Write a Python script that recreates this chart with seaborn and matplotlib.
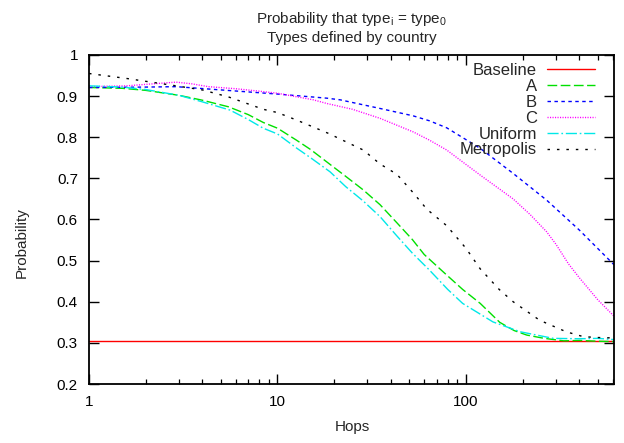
import matplotlib
matplotlib.use("Agg")
import matplotlib.pyplot as plt
import seaborn as sns
import pandas as pd
from matplotlib.ticker import LogLocator, NullFormatter, FuncFormatter, MultipleLocator

# ---------------- data ----------------
title_text = "Probability that type$_\\mathregular{i}$ = type$_\\mathregular{0}$\nTypes defined by country"
x_label = "Hops"
y_label = "Probability"

series_names = ["Baseline", "A", "B", "C", "Uniform", "Metropolis"]

baseline_x = [1, 610]
baseline_y = [0.304, 0.304]

a_x = [1, 1.5, 2, 3, 4, 5.5, 7, 8.4, 10, 12.6, 15, 19, 23, 28.5, 35, 43, 52, 60, 76, 96,
       119, 151, 180, 210, 260, 330, 400, 500, 610]
a_y = [0.921, 0.919, 0.914, 0.902, 0.890, 0.874, 0.855, 0.836, 0.822, 0.793, 0.770, 0.734,
       0.705, 0.672, 0.636, 0.592, 0.551, 0.515, 0.472, 0.430, 0.396, 0.350, 0.330, 0.319,
       0.311, 0.305, 0.306, 0.304, 0.303]

b_x = [1, 2, 2.9, 5.4, 10, 18.3, 21.5, 35, 52.5, 64, 79, 119, 178, 268, 400, 610]
b_y = [0.921, 0.922, 0.923, 0.914, 0.905, 0.895, 0.891, 0.870, 0.852, 0.840, 0.823, 0.773,
       0.712, 0.647, 0.574, 0.490]

c_x = [1, 1.58, 2.2, 2.9, 3.5, 4.3, 6, 8, 10, 15.5, 18.3, 25, 35, 52.5, 64, 79, 119, 178,
       219, 268, 300, 350, 400, 500, 610]
c_y = [0.923, 0.925, 0.930, 0.934, 0.930, 0.923, 0.918, 0.912, 0.907, 0.891, 0.882, 0.868,
       0.846, 0.813, 0.793, 0.769, 0.708, 0.650, 0.612, 0.570, 0.540, 0.492, 0.458, 0.405,
       0.365]

u_x = [1, 1.5, 2, 3, 4, 5.6, 7, 8.4, 10, 12.6, 15, 19, 23, 28.5, 35, 43, 52, 64, 80, 96,
       139, 194, 290, 400, 500, 610]
u_y = [0.925, 0.922, 0.916, 0.902, 0.886, 0.866, 0.843, 0.822, 0.808, 0.774, 0.750, 0.716,
       0.680, 0.645, 0.607, 0.560, 0.518, 0.477, 0.430, 0.396, 0.351, 0.327, 0.311, 0.310,
       0.311, 0.308]

m_x = [1, 1.58, 2.9, 4, 5.5, 8.4, 10, 12.6, 18.5, 28.5, 35, 43, 52.5, 62, 79, 100, 119, 150,
       178, 246, 340, 420, 500, 610]
m_y = [0.955, 0.943, 0.925, 0.915, 0.898, 0.868, 0.860, 0.842, 0.810, 0.769, 0.735, 0.710,
       0.665, 0.625, 0.585, 0.530, 0.480, 0.430, 0.400, 0.355, 0.327, 0.315, 0.313, 0.312]

x_limits = (1, 610)
y_limits = (0.2, 1.0)

# ---------------- styling ----------------
sns.set_theme(style="ticks")
plt.rcParams["font.family"] = ["Liberation Sans", "DejaVu Sans"]
plt.rcParams["mathtext.fontset"] = "custom"
plt.rcParams["mathtext.rm"] = "Liberation Sans"

fig = plt.figure(figsize=(6.24, 4.43), dpi=100)
ax = fig.add_axes([89 / 624, 1 - 384 / 443, 525 / 624, 329 / 443])

styles = [
    ("#ff0000", "-"),
    ("#00e000", (0, (7, 2.5))),
    ("#0000ff", (0, (2.5, 2.5))),
    ("#ff00ff", (0, (0.8, 1.0))),
    ("#00e8e8", (0, (8, 2, 1.2, 2))),
    ("#000000", (0, (1.8, 5))),
]
xs = [baseline_x, a_x, b_x, c_x, u_x, m_x]
ys = [baseline_y, a_y, b_y, c_y, u_y, m_y]

for name, x, y, (col, ls) in zip(series_names, xs, ys, styles):
    df = pd.DataFrame({"x": x, "y": y})
    sns.lineplot(data=df, x="x", y="y", ax=ax, color=col, linestyle=ls,
                 linewidth=1.0, label=name, sort=False, estimator=None)

ax.set_xscale("log")
ax.set_xlim(*x_limits)
ax.set_ylim(*y_limits)

ax.xaxis.set_major_locator(LogLocator(base=10, numticks=10))
ax.xaxis.set_minor_locator(LogLocator(base=10, subs=range(2, 10), numticks=100))
ax.xaxis.set_major_formatter(FuncFormatter(lambda v, p: f"{v:g}"))
ax.xaxis.set_minor_formatter(NullFormatter())
ax.yaxis.set_major_locator(MultipleLocator(0.1))
ax.yaxis.set_major_formatter(FuncFormatter(lambda v, p: f"{v:.1f}".rstrip("0").rstrip(".") if v < 0.999 else "1"))

ax.tick_params(which="both", direction="in", top=True, right=True, colors="black",
               labelsize=11)
ax.tick_params(which="major", length=7, width=1.0, pad=8)
ax.tick_params(which="minor", length=3.5, width=0.9)
for sp in ax.spines.values():
    sp.set_visible(True)
    sp.set_color("black")
    sp.set_linewidth(1.3)

ax.set_xlabel(x_label, fontsize=11)
ax.set_ylabel(y_label, fontsize=11)
ax.xaxis.set_label_coords(0.501, -0.131)
ax.xaxis.label.set_va("center")
ax.yaxis.set_label_coords(-0.128, 0.43)
ax.yaxis.label.set_va("center")

ax.set_title(title_text, fontsize=11, y=1.058, va="center", linespacing=1.3)

# markerfirst=False puts labels left of the samples, right-aligned (gnuplot style)
leg = ax.legend(loc="upper right", bbox_to_anchor=(0.964, 0.975), frameon=False,
                markerfirst=False, fontsize=12, handlelength=2.9, handletextpad=0.6,
                labelspacing=0.05, borderpad=0, borderaxespad=0)

fig.savefig("out.png", dpi=100)
